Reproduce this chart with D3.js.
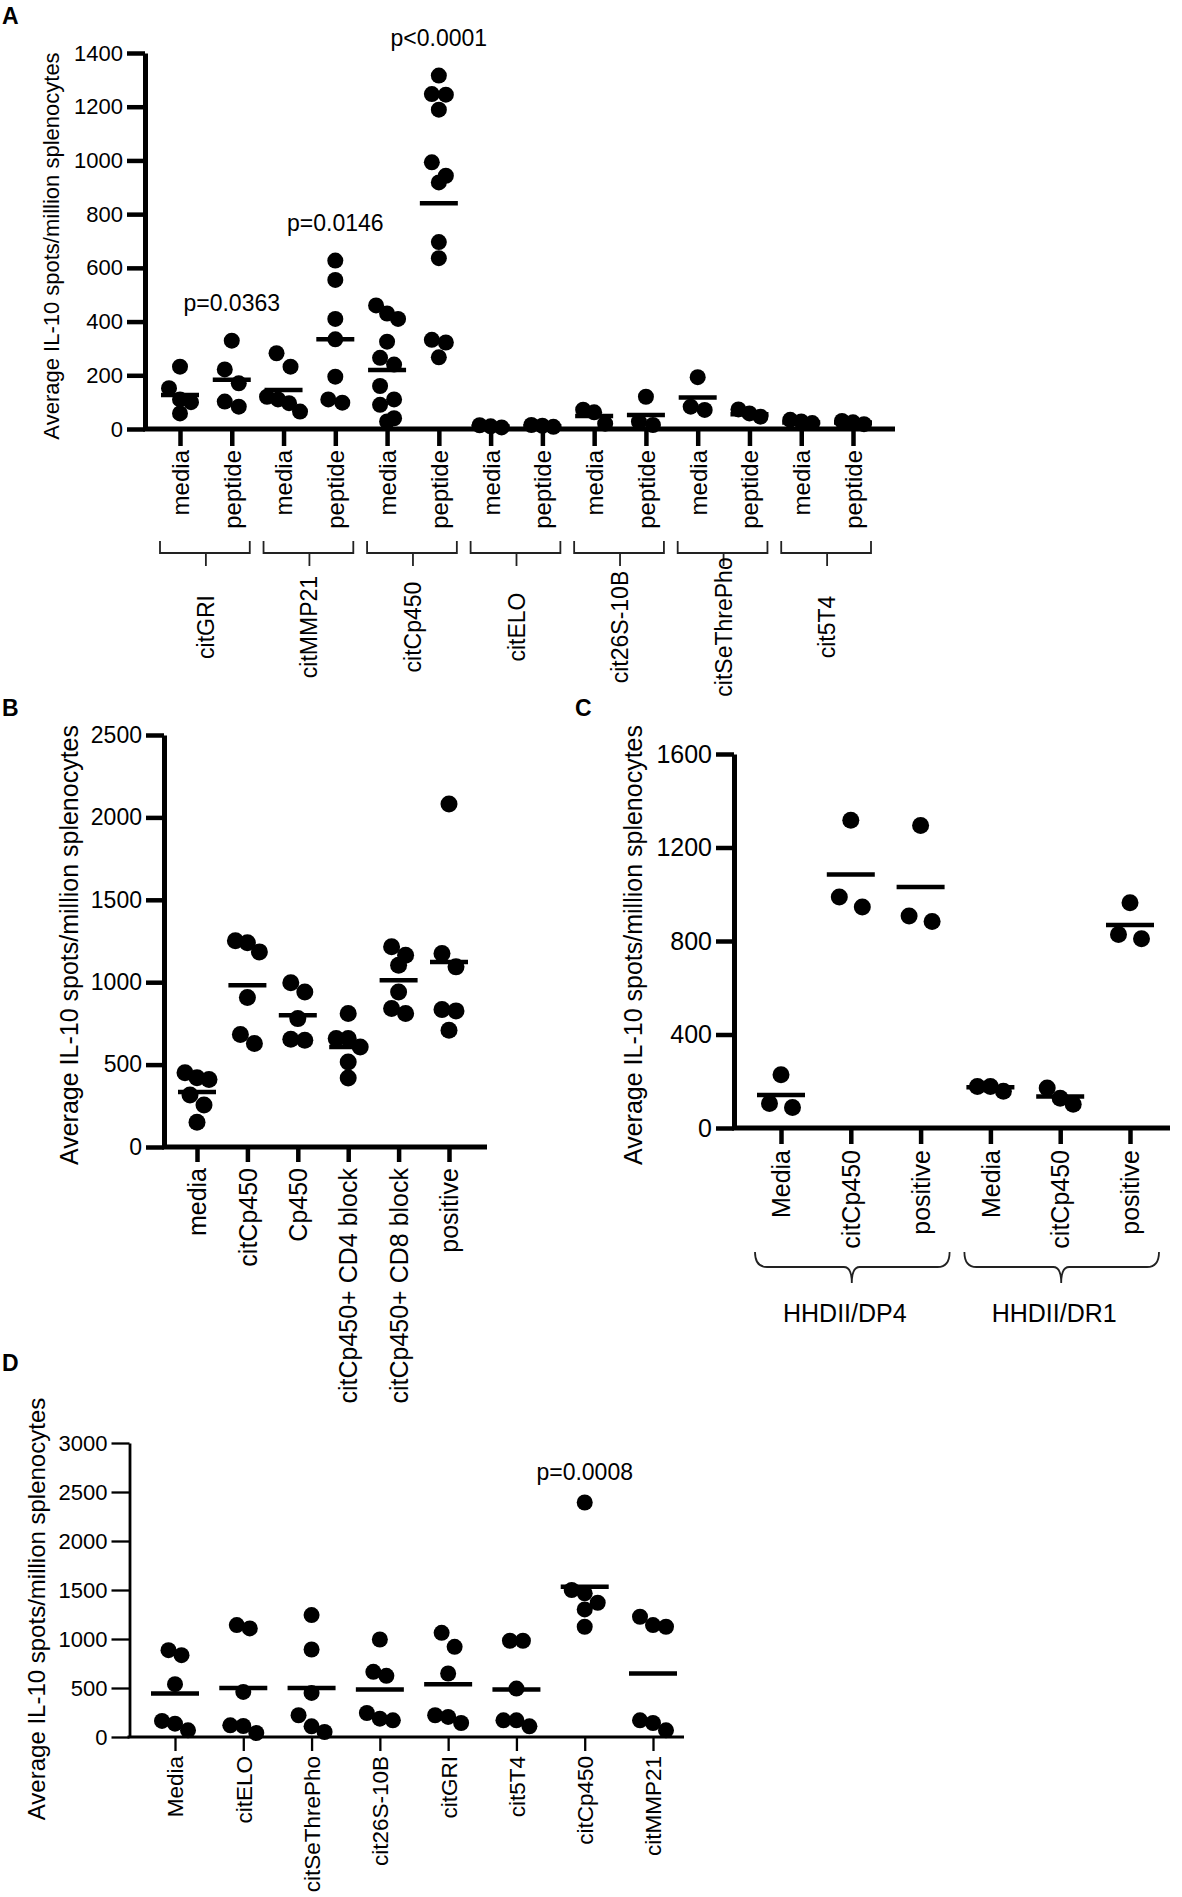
<!DOCTYPE html>
<html>
<head>
<meta charset="utf-8">
<script src="https://cdn.jsdelivr.net/npm/d3@7"></script>
<style>
  body { margin: 0; background: #fff; }
  svg { display: block; }
</style>
</head>
<body>
<script>
// ---- Panel A: media vs peptide per citrullinated peptide ----
var aCategories = ["media", "peptide", "media", "peptide", "media", "peptide", "media", "peptide",
                   "media", "peptide", "media", "peptide", "media", "peptide"];
var aGroups = ["citGRI", "citMMP21", "citCp450", "citELO", "cit26S-10B", "citSeThrePho", "cit5T4"];
var aValues = [
    [232, 152, 110, 100, 58],
    [329, 222, 170, 102, 83],
    [282, 232, 120, 110, 96, 65],
    [627, 555, 410, 334, 195, 110, 98],
    [460, 430, 410, 325, 265, 240, 160, 110, 90, 40, 28],
    [1316, 1247, 1245, 1189, 993, 943, 918, 696, 636, 332, 322, 267],
    [14, 10, 6],
    [15, 12, 8],
    [72, 62, 20],
    [120, 27, 15],
    [193, 83, 71],
    [73, 58, 46],
    [34, 28, 22],
    [30, 25, 18]
];
var aMeans = [127, 183, 145, 334, 220, 841, 9, 10, 48, 52, 117, 55, 24, 24];
var aTicks = [0, 200, 400, 600, 800, 1000, 1200, 1400];
var aPvalues = [
    {category: 1, label: "p=0.0363"},
    {category: 3, label: "p=0.0146"},
    {category: 5, label: "p<0.0001"}
];

// ---- Panel B ----
var bCategories = ["media", "citCp450", "Cp450", "citCp450+ CD4 block", "citCp450+ CD8 block", "positive"];
var bValues = [
    [450, 420, 410, 315, 255, 150],
    [1251, 1239, 1184, 907, 682, 628],
    [996, 941, 779, 654, 648],
    [810, 658, 658, 607, 516, 419],
    [1215, 1164, 1103, 941, 840, 810],
    [2081, 1174, 1093, 834, 826, 709]
];
var bMeans = [334, 982, 800, 607, 1012, 1123];
var bTicks = [0, 500, 1000, 1500, 2000, 2500];

// ---- Panel C ----
var cCategories = ["Media", "citCp450", "positive", "Media", "citCp450", "positive"];
var cGroups = ["HHDII/DP4", "HHDII/DR1"];
var cValues = [
    [228, 105, 88],
    [1317, 988, 945],
    [1294, 907, 883],
    [178, 178, 157],
    [171, 127, 102],
    [964, 828, 810]
];
var cMeans = [141, 1085, 1031, 174, 135, 868];
var cTicks = [0, 400, 800, 1200, 1600];

// ---- Panel D ----
var dCategories = ["Media", "citELO", "citSeThrePho", "cit26S-10B", "citGRI", "cit5T4", "citCp450", "citMMP21"];
var dValues = [
    [886, 835, 539, 164, 136, 68],
    [1142, 1108, 460, 119, 112, 41],
    [1244, 893, 450, 222, 109, 51],
    [995, 665, 624, 245, 187, 170],
    [1063, 920, 648, 222, 205, 143],
    [982, 982, 494, 170, 170, 109],
    [2393, 1500, 1466, 1370, 1302, 1125],
    [1227, 1142, 1125, 170, 143, 68]
];
var dMeans = [443, 501, 501, 484, 539, 484, 1534, 648];
var dTicks = [0, 500, 1000, 1500, 2000, 2500, 3000];
var dPvalues = [{category: 6, label: "p=0.0008"}];

var yTitle = "Average IL-10 spots/million splenocytes";
var font = "'Liberation Sans', Arial, Helvetica, sans-serif";

var svg = d3.select("body").append("svg")
    .attr("width", 1182)
    .attr("height", 1897)
    .style("background", "#ffffff");

// spread dots of similar value into rows, like a column scatter
function dodge(values, y, p) {
    var sorted = values.slice().sort(function(a, b) { return b - a; });
    var rows = [];
    sorted.forEach(function(v) {
        var row = rows[rows.length - 1];
        if (row && Math.abs(y(row[0]) - y(v)) < p.rowGap) row.push(v);
        else rows.push([v]);
    });
    var out = [];
    rows.forEach(function(row) {
        var s = row.length == 2 ? p.pairStep : p.step;
        row.forEach(function(v, i) {
            out.push({v: v, dx: (i - (row.length - 1) / 2) * s});
        });
    });
    return out;
}

function drawPanel(p) {
    var g = svg.append("g");

    var y = d3.scaleLinear()
        .domain([0, p.ticks[p.ticks.length - 1]])
        .range(p.yRange);

    var x = d3.scalePoint()
        .domain(d3.range(p.categories.length))
        .range(p.xRange);

    var y0 = y(0);

    // y axis
    var yAxis = g.append("g")
        .attr("transform", "translate(" + p.axisX + ",0)")
        .call(d3.axisLeft(y).tickValues(p.ticks).tickFormat(d3.format("d"))
            .tickSize(18).tickPadding(4).tickSizeOuter(0));
    yAxis.select(".domain").attr("stroke", "#000").attr("stroke-width", p.axisW);
    yAxis.selectAll(".tick line").attr("stroke", "#000").attr("stroke-width", p.axisW - 0.5);
    yAxis.selectAll(".tick text")
        .attr("font-family", font)
        .attr("font-size", p.tickFont)
        .attr("fill", "#000");

    // x axis
    var xAxis = g.append("g")
        .attr("transform", "translate(0," + y0 + ")")
        .call(d3.axisBottom(x).tickSize(p.xTick).tickFormat(function(i) { return p.categories[i]; }));
    xAxis.select(".domain").remove();
    xAxis.selectAll(".tick line").attr("stroke", "#000").attr("stroke-width", p.axisW - 0.5);
    xAxis.selectAll(".tick text")
        .attr("font-family", font)
        .attr("font-size", p.labelFont)
        .attr("fill", "#000")
        .attr("y", 0)
        .attr("x", -(p.labelTop - y0))
        .attr("dy", "0.35em")
        .attr("transform", "rotate(-90)")
        .attr("text-anchor", "end");

    g.append("line")
        .attr("x1", p.axisX - 2)
        .attr("x2", p.axisEnd)
        .attr("y1", y0)
        .attr("y2", y0)
        .attr("stroke", "#000")
        .attr("stroke-width", p.axisW);

    // dots
    p.values.forEach(function(vals, i) {
        g.selectAll(null)
            .data(dodge(vals, y, p))
            .enter().append("circle")
            .attr("cx", function(d) { return x(i) + d.dx; })
            .attr("cy", function(d) { return y(d.v); })
            .attr("r", p.r)
            .attr("fill", "#000");
    });

    // mean bars
    g.selectAll(null)
        .data(p.means)
        .enter().append("line")
        .attr("x1", function(d, i) { return x(i) - p.barHalf; })
        .attr("x2", function(d, i) { return x(i) + p.barHalf; })
        .attr("y1", function(d) { return y(d); })
        .attr("y2", function(d) { return y(d); })
        .attr("stroke", "#000")
        .attr("stroke-width", 4.5);

    // p values
    (p.pvalues || []).forEach(function(pv) {
        g.append("text")
            .attr("x", x(pv.category))
            .attr("y", y(d3.max(p.values[pv.category])) - p.pOffset)
            .attr("text-anchor", "middle")
            .attr("font-family", font)
            .attr("font-size", 23)
            .text(pv.label);
    });

    // y title
    g.append("text")
        .attr("transform", "translate(" + p.titleX + "," + p.titleY + ") rotate(-90)")
        .attr("text-anchor", "middle")
        .attr("dy", "0.35em")
        .attr("font-family", font)
        .attr("font-size", p.titleFont)
        .text(yTitle);

    // panel letter
    g.append("text")
        .attr("x", 2)
        .attr("y", p.letterY)
        .attr("dx", p.letterX)
        .attr("font-family", font)
        .attr("font-weight", "bold")
        .attr("font-size", 23)
        .text(p.letter);

    return x;
}

// ---- A ----
var xa = drawPanel({
    letter: "A", letterX: 0, letterY: 24,
    categories: aCategories, values: aValues, means: aMeans, ticks: aTicks, pvalues: aPvalues,
    axisX: 145, axisEnd: 895, xRange: [180, 853], yRange: [429, 53], axisW: 5,
    xTick: 17, labelTop: 450, tickFont: 22, labelFont: 24, titleFont: 22,
    titleX: 51, titleY: 246, pOffset: 30,
    r: 8, step: 11, pairStep: 14, rowGap: 15, barHalf: 19
});

aGroups.forEach(function(name, gi) {
    var x1 = xa(gi * 2) - 20, x2 = xa(gi * 2 + 1) + 18, xm = (xa(gi * 2) + xa(gi * 2 + 1)) / 2;
    svg.append("path")
        .attr("d", "M" + x1 + ",541 V553 H" + x2 + " V541 M" + xm + ",553 V566")
        .attr("fill", "none")
        .attr("stroke", "#222")
        .attr("stroke-width", 1.8);
    svg.append("text")
        .attr("transform", "translate(" + xm + ",627) rotate(-90)")
        .attr("text-anchor", "middle")
        .attr("dy", "0.35em")
        .attr("font-family", font)
        .attr("font-size", 23)
        .text(name);
});

// ---- B ----
drawPanel({
    letter: "B", letterX: 0, letterY: 716,
    categories: bCategories, values: bValues, means: bMeans, ticks: bTicks,
    axisX: 164, axisEnd: 487, xRange: [197, 449], yRange: [1147, 735], axisW: 5,
    xTick: 15, labelTop: 1168, tickFont: 23, labelFont: 25, titleFont: 25,
    titleX: 69, titleY: 945,
    r: 8.5, step: 12, pairStep: 14, rowGap: 14, barHalf: 19
});

// ---- C ----
var xc = drawPanel({
    letter: "C", letterX: 573, letterY: 716,
    categories: cCategories, values: cValues, means: cMeans, ticks: cTicks,
    axisX: 734, axisEnd: 1170, xRange: [781, 1130], yRange: [1128, 754], axisW: 5,
    xTick: 16, labelTop: 1150, tickFont: 25, labelFont: 25, titleFont: 25,
    titleX: 633, titleY: 945,
    r: 8.5, step: 13, pairStep: 23, rowGap: 17, barHalf: 24
});

cGroups.forEach(function(name, gi) {
    var x1 = xc(gi * 3) - 26, x2 = xc(gi * 3 + 2) + 29, xm = xc(gi * 3 + 1) + 1;
    var yt = 1252, yh = 1267, ys = 1283;
    svg.append("path")
        .attr("d", "M" + x1 + "," + yt + " Q" + x1 + "," + yh + " " + (x1 + 12) + "," + yh +
                   " H" + (xm - 8) + " Q" + xm + "," + yh + " " + xm + "," + ys +
                   " Q" + xm + "," + yh + " " + (xm + 8) + "," + yh +
                   " H" + (x2 - 12) + " Q" + x2 + "," + yh + " " + x2 + "," + yt)
        .attr("fill", "none")
        .attr("stroke", "#222")
        .attr("stroke-width", 1.8);
    svg.append("text")
        .attr("x", xm - 7)
        .attr("y", 1322)
        .attr("text-anchor", "middle")
        .attr("font-family", font)
        .attr("font-size", 25)
        .text(name);
});

// ---- D ----
drawPanel({
    letter: "D", letterX: 0, letterY: 1371,
    categories: dCategories, values: dValues, means: dMeans, ticks: dTicks, pvalues: dPvalues,
    axisX: 129.5, axisEnd: 684, xRange: [175, 653], yRange: [1737, 1443], axisW: 2.8,
    xTick: 14, labelTop: 1756, tickFont: 22, labelFont: 22.5, titleFont: 24,
    titleX: 37, titleY: 1609, pOffset: 22,
    r: 8, step: 13, pairStep: 13, rowGap: 17, barHalf: 24
});
</script>
</body>
</html>
